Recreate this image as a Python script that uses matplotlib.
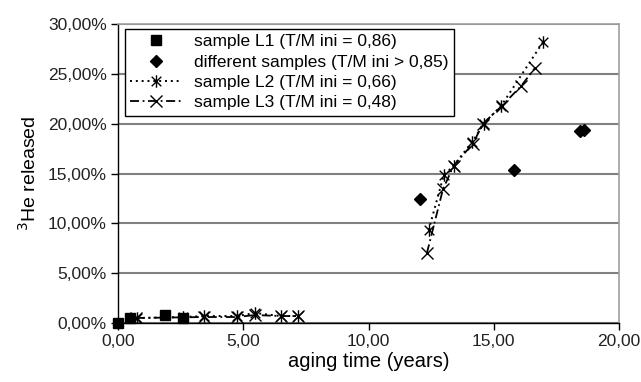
import matplotlib
matplotlib.use("Agg")
import matplotlib.pyplot as plt
import numpy as np
from matplotlib.path import Path
from matplotlib.ticker import FuncFormatter, MultipleLocator

plt.rcParams['font.family'] = ['Liberation Sans', 'DejaVu Sans']

# Data (aging time in years, 3He released in %)
l1_x = [0.0, 0.48, 1.88, 2.6]
l1_y = [0.0, 0.5, 0.8, 0.5]

diff_x = [12.05, 15.8, 18.45, 18.6]
diff_y = [12.4, 15.4, 19.3, 19.4]

l2_low_x = [0.76, 2.6, 3.45, 4.75, 5.47, 6.5, 7.2]
l2_low_y = [0.5, 0.6, 0.7, 0.7, 1.0, 0.7, 0.7]
l2_high_x = [12.4, 13.0, 13.4, 14.15, 14.6, 15.3, 16.97]
l2_high_y = [9.3, 14.8, 15.8, 18.2, 20.0, 21.8, 28.2]

l3_low_x = [0.7, 3.45, 4.75, 5.47, 6.5, 7.2]
l3_low_y = [0.5, 0.6, 0.6, 0.8, 0.7, 0.7]
l3_high_x = [12.33, 12.97, 13.4, 14.17, 14.57, 15.33, 16.1, 16.65]
l3_high_y = [7.0, 13.4, 15.8, 18.0, 20.0, 21.8, 23.8, 25.6]

labels = ["sample L1 (T/M ini = 0,86)",
          "different samples (T/M ini > 0,85)",
          "sample L2 (T/M ini = 0,66)",
          "sample L3 (T/M ini = 0,48)"]

# asterisk marker: x plus vertical bar
ast = Path([(-1, -1), (1, 1), (-1, 1), (1, -1), (0, -1.3), (0, 1.3)],
           [Path.MOVETO, Path.LINETO, Path.MOVETO, Path.LINETO, Path.MOVETO, Path.LINETO])

fig = plt.figure(figsize=(6.41, 3.82), dpi=100)
ax = fig.add_axes([118/641, 1-323/382, (619-118)/641, (323-24)/382])

def join(a, b):
    return list(a) + [np.nan] + list(b)

ax.plot(l1_x, l1_y, linestyle='none', marker='s', color='black', markersize=7, label=labels[0],
        zorder=4, clip_on=False)
ax.plot(diff_x, diff_y, linestyle='none', marker='D', color='black', markersize=6.5, label=labels[1], zorder=4)
ax.plot(join(l2_low_x, l2_high_x), join(l2_low_y, l2_high_y), linestyle=(0, (1, 2)), color='black',
        linewidth=1.4, marker=ast, markersize=9, markerfacecolor='none', markeredgewidth=1.0,
        label=labels[2], zorder=3)
ax.plot(join(l3_low_x, l3_high_x), join(l3_low_y, l3_high_y), linestyle=(0, (5, 2, 1, 2)), color='black',
        linewidth=1.3, marker='x', markersize=8, markeredgewidth=1.0,
        label=labels[3], zorder=3)

ax.set_xlim(0, 20)
ax.set_ylim(0, 30)
ax.xaxis.set_major_locator(MultipleLocator(5))
ax.yaxis.set_major_locator(MultipleLocator(5))
ax.xaxis.set_major_formatter(FuncFormatter(lambda v, p: f"{v:.2f}".replace('.', ',')))
ax.yaxis.set_major_formatter(FuncFormatter(lambda v, p: f"{v:.2f}%".replace('.', ',')))
ax.grid(axis='y', color='#808080', linewidth=1.5, zorder=0)
ax.set_axisbelow(True)
for s in ['top', 'right']:
    ax.spines[s].set_color('#a0a0a0')
    ax.spines[s].set_linewidth(1.2)
for s in ['left', 'bottom']:
    ax.spines[s].set_color('black')
    ax.spines[s].set_linewidth(1.0)
ax.tick_params(direction='out', length=5, width=1, labelsize=12.5, colors='black',
               labelcolor='#222222', pad=3)

ax.set_xlabel("aging time (years)", fontsize=14.5, labelpad=2)
ax.set_ylabel("$^{3}$He released", fontsize=14, labelpad=6)

leg = ax.legend(loc='upper left', bbox_to_anchor=(7/501, 1 - 5/299), fontsize=12.5, frameon=True,
                fancybox=False, edgecolor='black', framealpha=1, borderpad=0.3,
                labelspacing=0.3, handlelength=3.0, handletextpad=0.7, borderaxespad=0)
leg.get_frame().set_linewidth(1.0)

fig.savefig("out.png", dpi=100)
